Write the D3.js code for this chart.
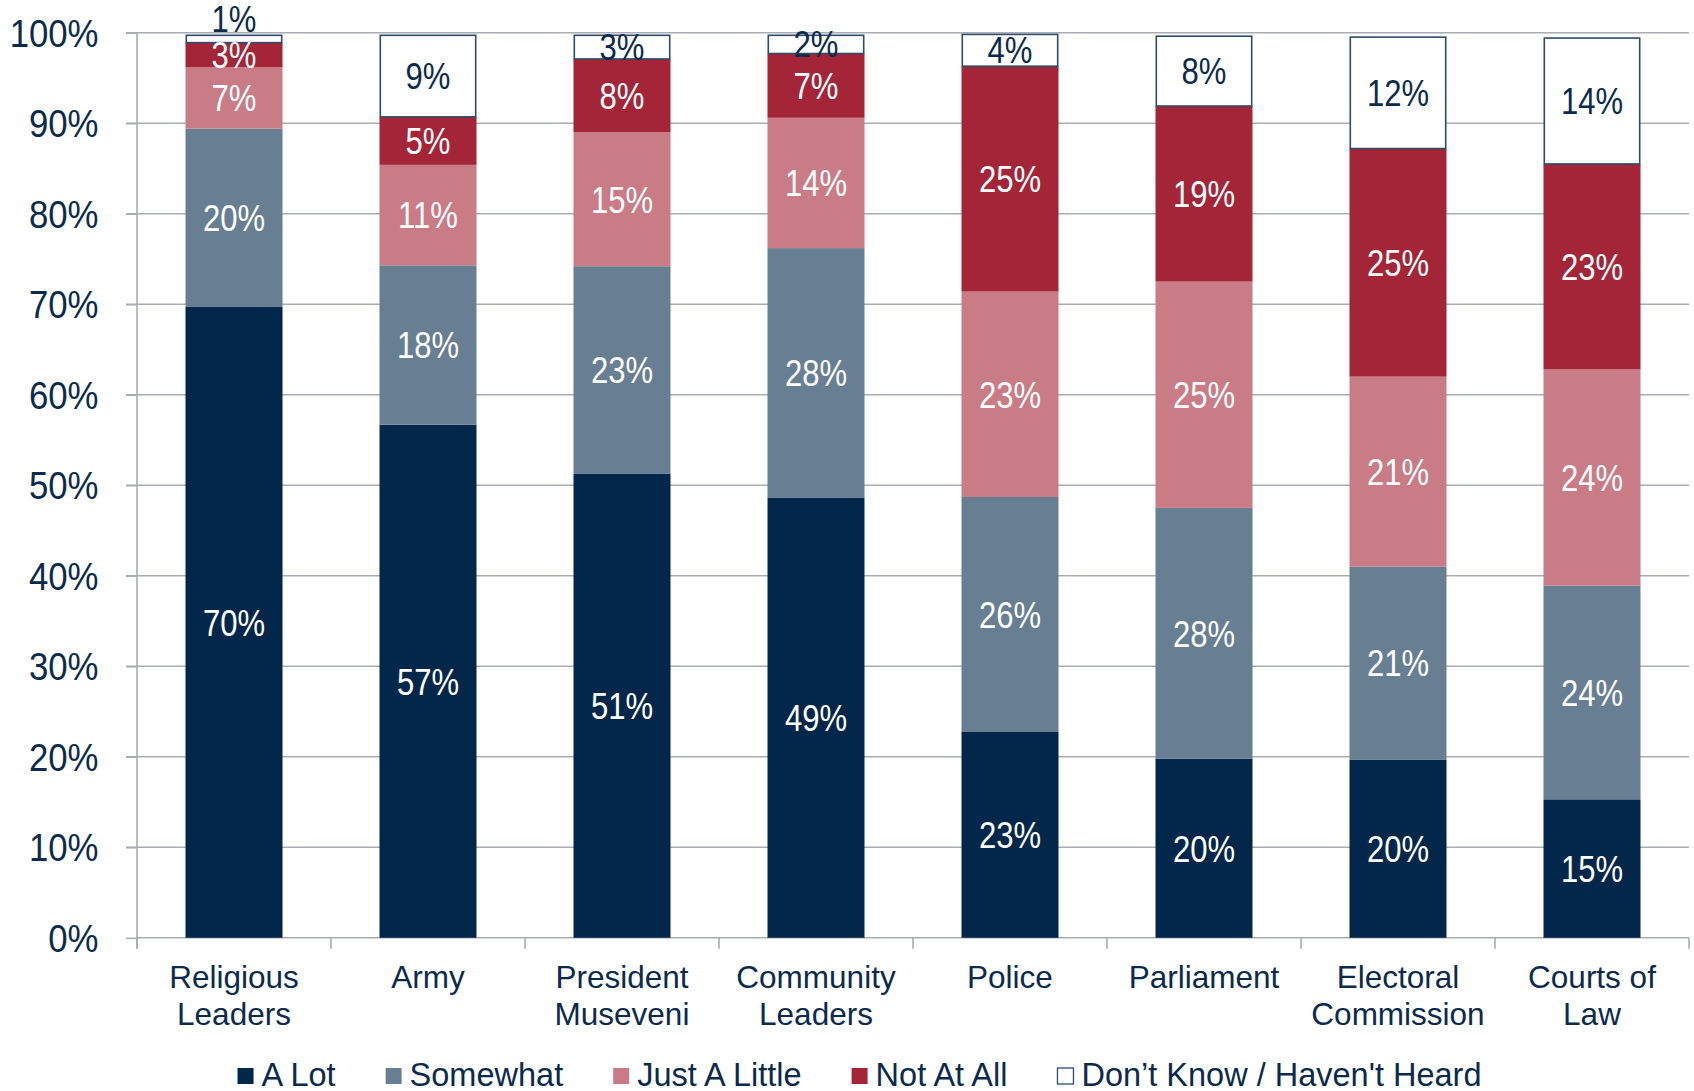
<!DOCTYPE html>
<html><head><meta charset="utf-8">
<script src="https://cdn.jsdelivr.net/npm/d3@7"></script>
<style>
html,body{margin:0;padding:0;background:#fff;}
svg{display:block;}
text{font-family:"Liberation Sans",Arial,sans-serif;}
</style></head>
<body><svg id="chart" width="1694" height="1091"></svg>
<script>
const categories = ["Religious\nLeaders","Army","President\nMuseveni","Community\nLeaders","Police","Parliament","Electoral\nCommission","Courts of\nLaw"];
const seriesNames = ["A Lot","Somewhat","Just A Little","Not At All","Don\u2019t Know / Haven't Heard"];
const aLot        = [69.7, 56.7, 51.3, 48.6, 22.8, 19.8, 19.7, 15.3];
const somewhat    = [19.7, 17.6, 22.9, 27.6, 25.9, 27.7, 21.3, 23.6];
const justALittle = [ 6.8, 11.1, 14.8, 14.4, 22.7, 25.0, 21.0, 23.9];
const notAtAll    = [ 2.7,  5.3,  8.1,  7.1, 24.9, 19.4, 25.2, 22.7];
const dontKnow    = [ 0.9,  9.1,  2.7,  2.1,  3.6,  7.8, 12.4, 14.0];
const yTicks = [0,10,20,30,40,50,60,70,80,90,100];
const colors = ["#03274a","#687e93","#c97b86","#a32537","#ffffff"];
const textColor = "#0b2a4c";
const gridColor = "#a9acb3";
const numScale = 0.84;
const axisNumScale = 0.88;

const seriesValues = [aLot, somewhat, justALittle, notAtAll, dontKnow];
const svg = d3.select("#chart");
const m = {left:137, right:1689, top:32.7, bottom:937.8};

const x = d3.scaleBand().domain(d3.range(categories.length)).range([m.left, m.right]).paddingInner(0.5).paddingOuter(0.25);
const y = d3.scaleLinear().domain([0,100]).range([m.bottom, m.top]);

// gridlines
svg.append("g").selectAll("line").data(yTicks.filter(t=>t>0)).join("line")
  .attr("x1", m.left-11).attr("x2", m.right).attr("y1", d=>y(d)).attr("y2", d=>y(d))
  .attr("stroke",gridColor).attr("stroke-width",1.6);

// y axis
const yAxis = d3.axisLeft(y).tickValues(yTicks).tickFormat(d=>d+"%").tickSize(11);
const gy = svg.append("g").attr("transform",`translate(${m.left},0)`).call(yAxis);
gy.select(".domain").attr("stroke",gridColor).attr("stroke-width",1.6).attr("d",`M-11,${m.top}H0V${m.bottom+11}`);
gy.selectAll(".tick line").attr("stroke",gridColor).attr("stroke-width",1.6);
gy.selectAll(".tick text")
  .attr("x",null).attr("dy",null)
  .attr("transform",`translate(${98.5-m.left},13.5) scale(${axisNumScale},1)`)
  .attr("fill",textColor).attr("font-size",39.5)
  .attr("font-family",'"Liberation Sans",Arial,sans-serif');

// x axis line and boundary ticks
const step = x.step();
svg.append("line").attr("x1",m.left).attr("x2",m.right).attr("y1",m.bottom).attr("y2",m.bottom)
  .attr("stroke",gridColor).attr("stroke-width",1.6);
svg.append("g").selectAll("line").data(d3.range(categories.length+1)).join("line")
  .attr("x1", i=>m.left+i*step).attr("x2", i=>m.left+i*step)
  .attr("y1", m.bottom).attr("y2", m.bottom+11)
  .attr("stroke",gridColor).attr("stroke-width",1.6);

// category labels
const catG = svg.append("g");
categories.forEach((c,i)=>{
  const lines = c.split("\n");
  const t = catG.append("text").attr("text-anchor","middle").attr("fill",textColor).attr("font-size",31.5);
  lines.forEach((ln,j)=>{
    t.append("tspan").attr("x", x(i)+x.bandwidth()/2).attr("y", 988 + j*37).text(ln);
  });
});

// stacked data
const rows = categories.map((c,i)=>{ const o={i}; seriesValues.forEach((s,k)=>o[k]=s[i]); return o; });
const stack = d3.stack().keys(d3.range(seriesValues.length))(rows);

const barsG = svg.append("g");
stack.forEach((layer,k)=>{
  const dk = k===4;
  barsG.append("g").selectAll("rect").data(layer).join("rect")
    .attr("x", d=>x(d.data.i)+(dk?0.8:0))
    .attr("width", x.bandwidth()-(dk?1.6:0))
    .attr("y", d=>y(d[1])+(dk?0.8:0))
    .attr("height", d=>Math.max(0,y(d[0])-y(d[1])-(dk?0.8:0)))
    .attr("fill", colors[k])
    .attr("stroke", dk ? "#2e4b69" : "none")
    .attr("stroke-width", dk ? 1.6 : 0);
});

// labels with simple collision avoidance
const labG = svg.append("g");
categories.forEach((c,i)=>{
  let prev = null;
  stack.forEach((layer,k)=>{
    const d = layer[i];
    let cy = (y(d[0])+y(d[1]))/2;
    if (prev !== null && prev - cy < 36) cy = prev - 36;
    prev = cy;
    labG.append("text").attr("text-anchor","middle")
      .attr("transform",`translate(${x(i)+x.bandwidth()/2},${cy}) scale(${numScale},1)`)
      .attr("dy","0.36em")
      .attr("font-size",37).attr("fill", k===4 ? textColor : "#ffffff")
      .text(Math.round(seriesValues[k][i])+"%");
  });
});

// legend
const legG = svg.append("g");
const items = [];
let cx = 0;
const gap = 50;
seriesNames.forEach((n,k)=>{
  const g = legG.append("g");
  g.append("rect").attr("x",0).attr("y",-8).attr("width",16).attr("height",16)
    .attr("fill",colors[k]).attr("stroke", k===4?"#2e4b69":"none").attr("stroke-width",1.3);
  const t = g.append("text").attr("x",24).attr("y",9.5).attr("font-size",32.5).attr("fill",textColor).text(n);
  const w = 24 + t.node().getComputedTextLength();
  items.push({g, x:cx});
  cx += w + gap;
});
const total = cx - gap;
const start = 859.5 - total/2;
items.forEach(it=>it.g.attr("transform",`translate(${start+it.x},1076)`));
</script></body></html>
